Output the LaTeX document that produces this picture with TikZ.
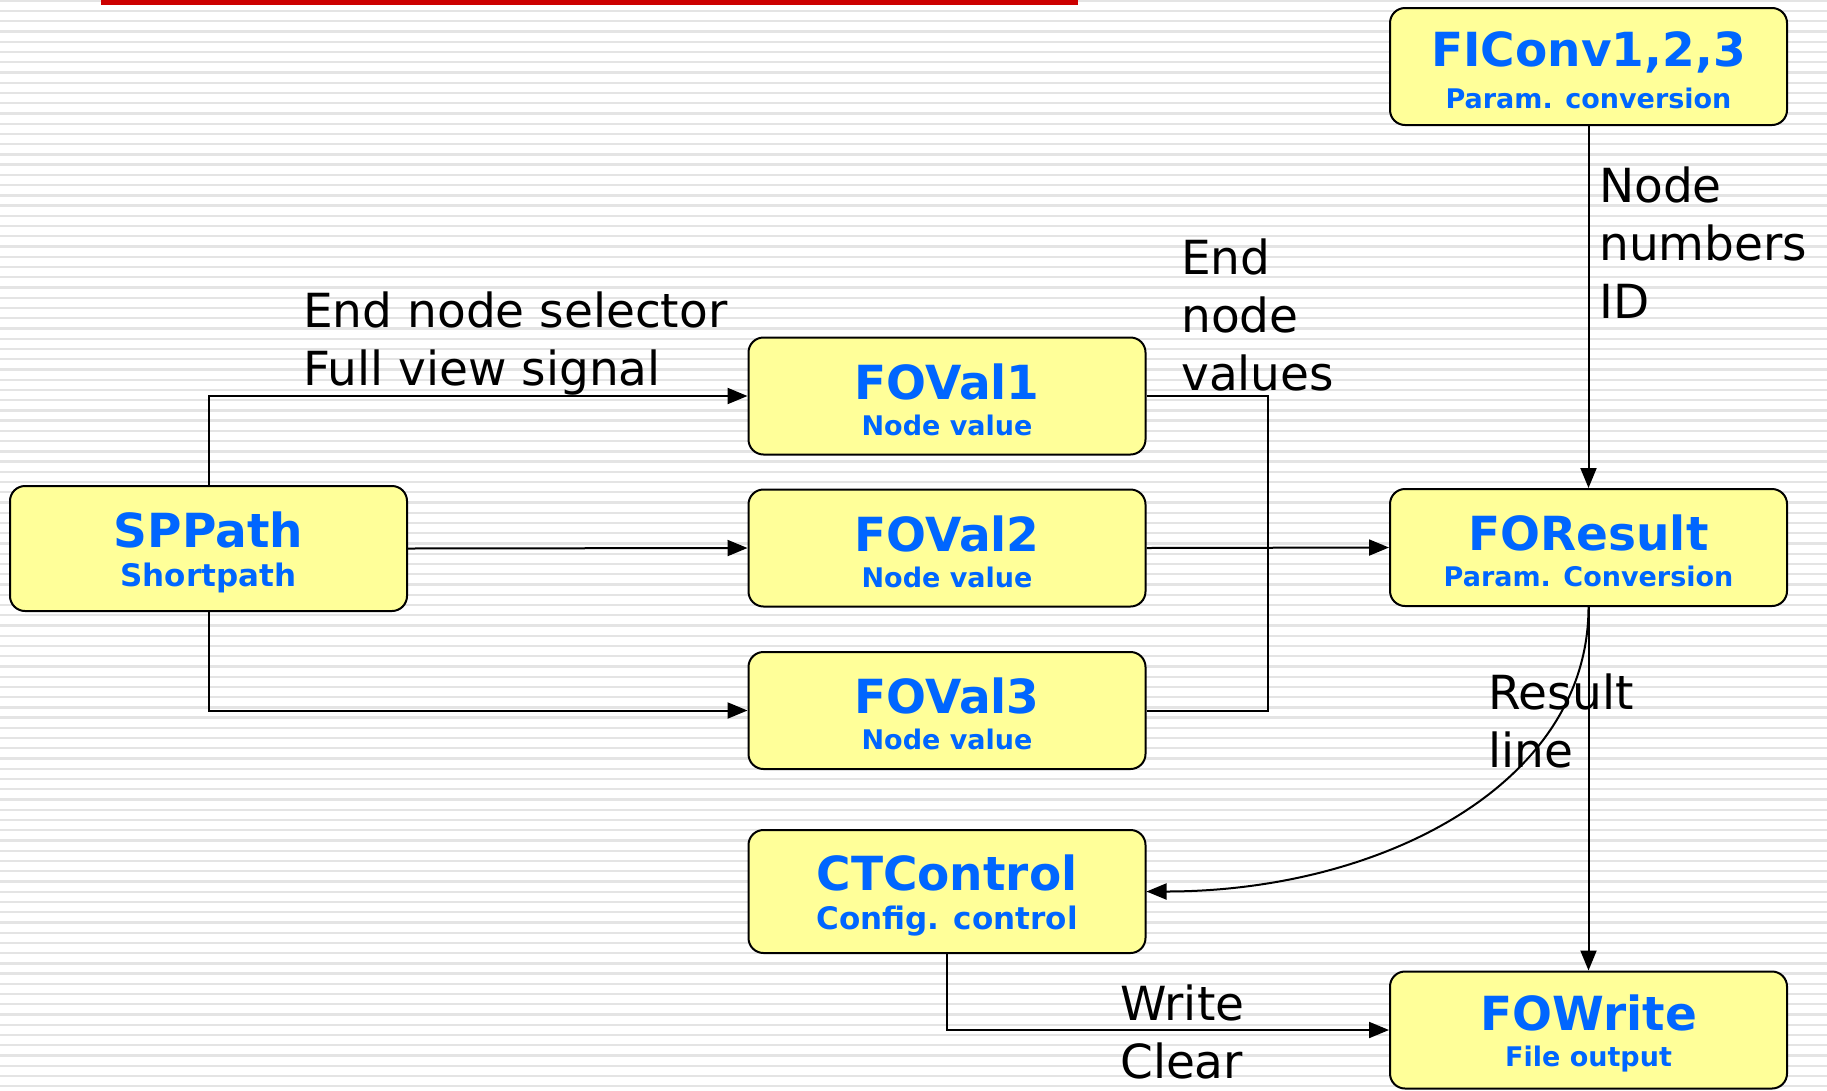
\documentclass[tikz,border=0pt]{standalone}
\usepackage{fontspec}
\setmainfont{DejaVu Sans}
\usetikzlibrary{arrows.meta}
\definecolor{boxfill}{RGB}{255,255,153}
\definecolor{boxtext}{RGB}{0,102,255}
\definecolor{barred}{RGB}{204,0,0}
\definecolor{stripe}{RGB}{228,228,228}
\newcommand{\blocktext}[3][27]{{\fontsize{47}{40}\selectfont\rule{0pt}{43pt}#2}\\[14pt]{\fontsize{#1}{40}\selectfont #3}}

\begin{document}
\begin{tikzpicture}[x=1pt,y=-1pt]
      \tikzstyle{every node}+=[inner sep=0pt]
      \tikzstyle{block}=[draw=black, line width=2pt, fill=boxfill, rounded corners=15pt, minimum width=397pt, minimum height=117pt, align=center, text=boxtext, font=\bfseries]
      \tikzstyle{wire}=[black, line width=2pt]
      \tikzstyle{flow}=[wire, -{Triangle[length=20pt,width=16pt]}]
      \tikzstyle{note}=[anchor=west, align=left, font={\fontsize{47}{58}\selectfont}]
      \useasboundingbox (0,0) rectangle (1827,1090);
      \fill [white] (0,0) rectangle (1827,1090);
      \foreach \k in {0,...,106}
        \draw [stripe, line width=2.3pt] (0,0.8+10.24*\k) -- (1827,0.8+10.24*\k);
      \fill [barred] (101,0) rectangle (1078,5);
      \node [block] (ficonv) at (1588.5,66.5) {\blocktext{FIConv1,2,3}{Param. conversion}};
      \node [block, minimum height=125pt] (sppath) at (208.5,548.5) {\blocktext[31]{SPPath}{Shortpath}};
      \node [block] (foval1) at (947,396) {\blocktext{FOVal1}{Node value}};
      \node [block] (foval2) at (947,548) {\blocktext{FOVal2}{Node value}};
      \node [block] (foval3) at (947,710.5) {\blocktext{FOVal3}{Node value}};
      \node [block] (foresult) at (1588.5,547.5) {\blocktext{FOResult}{Param. Conversion}};
      \node [block, minimum height=123pt] (ctcontrol) at (947,891.5) {\blocktext[31]{CTControl}{Config. control}};
      \node [block] (fowrite) at (1588.5,1030) {\blocktext{FOWrite}{File output}};
      \coordinate (bus) at (1268,548);
      \draw [flow] (sppath.north) |- (foval1.west);
      \draw [flow] (sppath.east) -- (foval2.west);
      \draw [flow] (sppath.south) |- (foval3.west);
      \draw [wire] (foval1.east) -| (bus) |- (foval3.east);
      \draw [flow] (foval2.east) -- (foresult.west);
      \draw [flow] (ficonv.south) -- (foresult.north);
      \draw [flow] (foresult.south) -- (fowrite.north);
      \draw [flow] (foresult.south) .. controls (1588.5,785) and (1380,891.5) .. (ctcontrol.east);
      \draw [flow] (ctcontrol.south) |- (fowrite.west);
      \node [note] (selector) at (303,344) {End node selector\\Full view signal};
      \node [note] (values) at (1181,315) {End\\node\\values};
      \node [note] (numbers) at (1599,243) {Node\\numbers\\ID};
      \node [note] (result) at (1488,721) {Result\\line};
      \node [note] (writeclear) at (1120,1032) {Write\\Clear};
\end{tikzpicture}
\end{document}
